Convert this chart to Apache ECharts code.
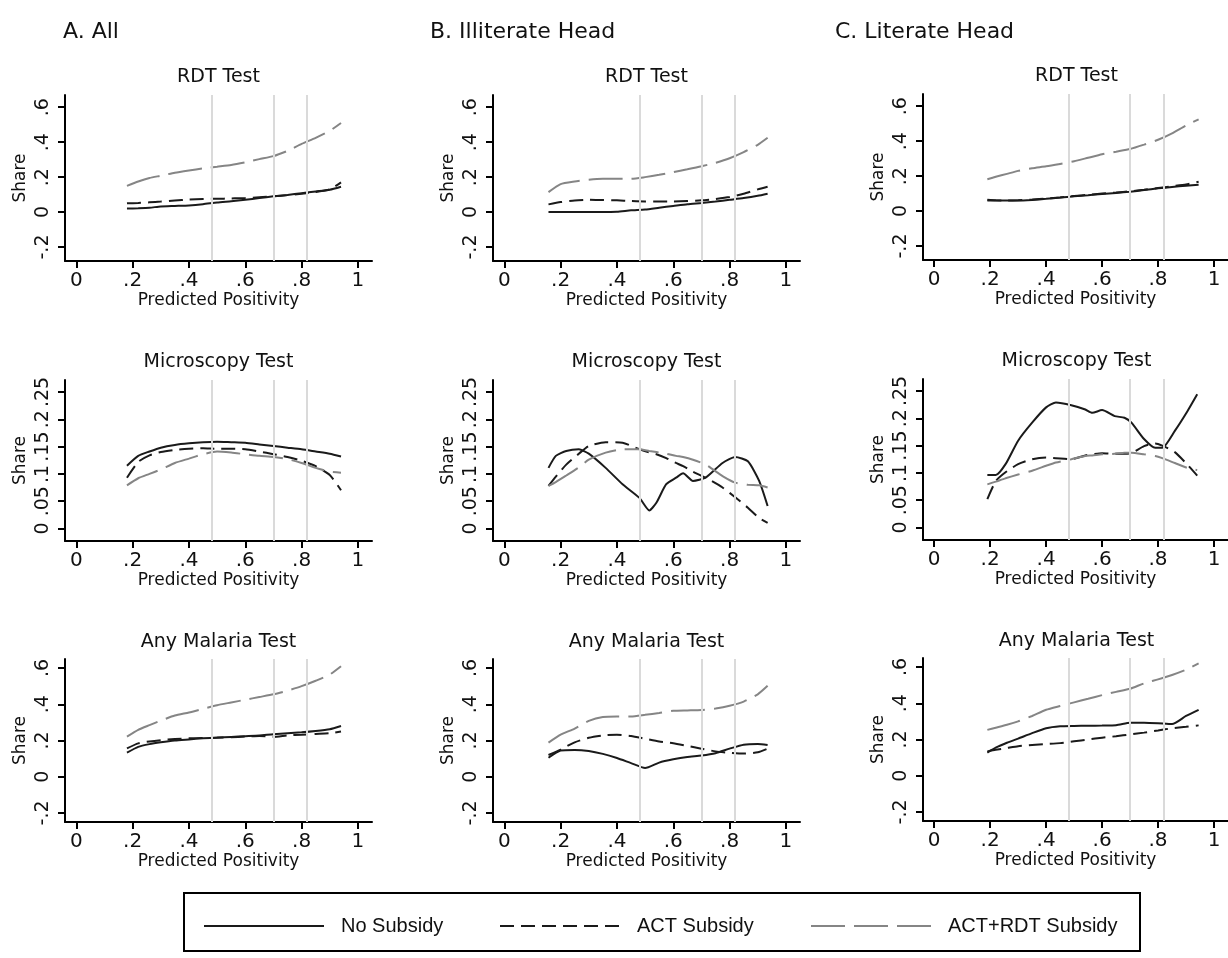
<!DOCTYPE html>
<html>
<head>
<meta charset="utf-8">
<script src="https://cdn.jsdelivr.net/npm/echarts@6/dist/echarts.min.js"></script>
<style>
  html, body { margin: 0; padding: 0; background: #fff; }
  #chart { width: 1228px; height: 958px; }
</style>
</head>
<body>
<div id="chart"></div>
<script>
// 刻度与参考线
const xTicks = [0, 0.2, 0.4, 0.6, 0.8, 1];
const shareTicks = [-0.2, 0, 0.2, 0.4, 0.6];
const microTicks = [0, 0.05, 0.1, 0.15, 0.2, 0.25];
const cutoffs = [0.48, 0.705, 0.82];

const columnTitles = ['A. All', 'B. Illiterate Head', 'C. Literate Head'];
const rowTitles = ['RDT Test', 'Microscopy Test', 'Any Malaria Test'];
const seriesNames = ['No Subsidy', 'ACT Subsidy', 'ACT+RDT Subsidy'];

// A. All
const xA = [0.18, 0.22, 0.26, 0.3, 0.35, 0.4, 0.45, 0.5, 0.55, 0.6, 0.65, 0.7, 0.75, 0.8, 0.85, 0.9, 0.94];
const noA1 = [0.02, 0.022, 0.025, 0.032, 0.035, 0.038, 0.045, 0.055, 0.062, 0.07, 0.08, 0.09, 0.098, 0.108, 0.118, 0.128, 0.145];
const actA1 = [0.05, 0.052, 0.056, 0.06, 0.066, 0.072, 0.075, 0.076, 0.078, 0.08, 0.085, 0.09, 0.097, 0.105, 0.115, 0.13, 0.17];
const rdtA1 = [0.15, 0.175, 0.195, 0.208, 0.225, 0.238, 0.25, 0.26, 0.27, 0.285, 0.303, 0.32, 0.35, 0.39, 0.425, 0.465, 0.51];
const noA2 = [0.115, 0.133, 0.141, 0.148, 0.153, 0.156, 0.158, 0.159, 0.158, 0.157, 0.154, 0.151, 0.148, 0.145, 0.141, 0.137, 0.132];
const actA2 = [0.093, 0.122, 0.134, 0.14, 0.144, 0.146, 0.147, 0.146, 0.146, 0.145, 0.141, 0.136, 0.131, 0.124, 0.114, 0.098, 0.07];
const rdtA2 = [0.079, 0.092, 0.1, 0.108, 0.12, 0.128, 0.136, 0.141, 0.139, 0.136, 0.133, 0.131, 0.127, 0.12, 0.111, 0.104, 0.102];
const noA3 = [0.133, 0.165, 0.18, 0.19, 0.2, 0.206, 0.212, 0.216, 0.22, 0.224, 0.228, 0.235, 0.24, 0.245, 0.252, 0.262, 0.28];
const actA3 = [0.156, 0.184, 0.195, 0.202, 0.208, 0.212, 0.214, 0.215, 0.218, 0.222, 0.225, 0.22, 0.228, 0.232, 0.236, 0.24, 0.25];
const rdtA3 = [0.221, 0.259, 0.285, 0.31, 0.338, 0.355, 0.375, 0.395, 0.41, 0.425, 0.44, 0.455, 0.475, 0.5, 0.53, 0.564, 0.61];

// B. Illiterate Head
const xB = [0.157, 0.2, 0.25, 0.3, 0.35, 0.4, 0.45, 0.5, 0.55, 0.6, 0.65, 0.7, 0.75, 0.8, 0.85, 0.9, 0.935];
const noB1 = [0, 0, 0, 0, 0, 0.002, 0.01, 0.015, 0.025, 0.035, 0.045, 0.052, 0.06, 0.07, 0.08, 0.093, 0.105];
const actB1 = [0.044, 0.057, 0.066, 0.07, 0.069, 0.067, 0.063, 0.061, 0.061, 0.061, 0.063, 0.067, 0.075, 0.086, 0.105, 0.13, 0.145];
const rdtB1 = [0.114, 0.16, 0.175, 0.185, 0.19, 0.19, 0.19, 0.2, 0.213, 0.229, 0.245, 0.262, 0.282, 0.308, 0.343, 0.385, 0.425];
const xB2 = [0.157, 0.183, 0.22, 0.265, 0.3, 0.36, 0.42, 0.48, 0.515, 0.54, 0.575, 0.61, 0.635, 0.67, 0.715, 0.775, 0.82, 0.865, 0.905, 0.935];
const noB2 = [0.111, 0.133, 0.142, 0.145, 0.137, 0.111, 0.081, 0.056, 0.033, 0.047, 0.081, 0.093, 0.101, 0.087, 0.093, 0.12, 0.131, 0.123, 0.087, 0.041];
const actB2 = [0.078, 0.095, 0.117, 0.137, 0.151, 0.158, 0.157, 0.145, 0.139, 0.136, 0.129, 0.12, 0.114, 0.104, 0.093, 0.075, 0.057, 0.038, 0.019, 0.01];
const rdtB2 = [0.078, 0.085, 0.097, 0.112, 0.126, 0.139, 0.145, 0.145, 0.142, 0.14, 0.137, 0.133, 0.131, 0.126, 0.117, 0.096, 0.084, 0.08, 0.079, 0.075];
const noB3 = [0.105, 0.145, 0.148, 0.142, 0.126, 0.103, 0.075, 0.048, 0.078, 0.096, 0.109, 0.117, 0.13, 0.155, 0.177, 0.181, 0.175];
const actB3 = [0.12, 0.15, 0.19, 0.215, 0.228, 0.232, 0.225, 0.21, 0.195, 0.185, 0.17, 0.155, 0.14, 0.132, 0.128, 0.135, 0.155];
const rdtB3 = [0.188, 0.232, 0.266, 0.308, 0.33, 0.333, 0.333, 0.342, 0.352, 0.364, 0.366, 0.368, 0.377, 0.392, 0.415, 0.455, 0.502];

// C. Literate Head
const xC = [0.19, 0.22, 0.26, 0.3, 0.35, 0.4, 0.45, 0.5, 0.55, 0.6, 0.65, 0.7, 0.75, 0.8, 0.85, 0.9, 0.945];
const noC1 = [0.06, 0.06, 0.06, 0.06, 0.064, 0.07, 0.077, 0.085, 0.091, 0.098, 0.104, 0.111, 0.12, 0.13, 0.138, 0.145, 0.15];
const actC1 = [0.065, 0.062, 0.06, 0.062, 0.066, 0.072, 0.078, 0.086, 0.093, 0.1, 0.106, 0.113, 0.122, 0.132, 0.142, 0.152, 0.168];
const rdtC1 = [0.182, 0.196, 0.213, 0.23, 0.245, 0.256, 0.27, 0.285, 0.305, 0.325, 0.34, 0.355, 0.38, 0.408, 0.445, 0.49, 0.525];
const xC2 = [0.19, 0.22, 0.255, 0.3, 0.35, 0.4, 0.435, 0.49, 0.54, 0.565, 0.6, 0.645, 0.68, 0.705, 0.75, 0.79, 0.815, 0.86, 0.905, 0.94];
const noC2 = [0.096, 0.096, 0.116, 0.159, 0.192, 0.22, 0.229, 0.224, 0.216, 0.21, 0.215, 0.204, 0.201, 0.192, 0.162, 0.146, 0.146, 0.177, 0.213, 0.244];
const actC2 = [0.052, 0.085, 0.101, 0.116, 0.125, 0.128, 0.127, 0.125, 0.132, 0.134, 0.136, 0.135, 0.135, 0.136, 0.149, 0.154, 0.15, 0.138, 0.115, 0.095];
const rdtC2 = [0.079, 0.084, 0.09, 0.097, 0.104, 0.113, 0.119, 0.125, 0.131, 0.132, 0.134, 0.135, 0.137, 0.137, 0.134, 0.131, 0.127, 0.118, 0.109, 0.105];
const noC3 = [0.128, 0.155, 0.182, 0.205, 0.235, 0.262, 0.273, 0.275, 0.276, 0.277, 0.279, 0.292, 0.293, 0.29, 0.285, 0.33, 0.364];
const actC3 = [0.134, 0.143, 0.153, 0.163, 0.17, 0.175, 0.18, 0.19, 0.2, 0.21, 0.218, 0.228, 0.238, 0.25, 0.262, 0.27, 0.278];
const rdtC3 = [0.253, 0.265, 0.281, 0.3, 0.33, 0.364, 0.385, 0.405, 0.425, 0.445, 0.463, 0.48, 0.51, 0.532, 0.556, 0.585, 0.62];

// 按 行 x 列 组织
const panels = [
  [[xA, noA1, actA1, rdtA1], [xB, noB1, actB1, rdtB1], [xC, noC1, actC1, rdtC1]],
  [[xA, noA2, actA2, rdtA2], [xB2, noB2, actB2, rdtB2], [xC2, noC2, actC2, rdtC2]],
  [[xA, noA3, actA3, rdtA3], [xB, noB3, actB3, rdtB3], [xC, noC3, actC3, rdtC3]]
];

const FONT = 'DejaVu Sans';
const colLeft = [65, 493, 923];
const colShift = [0, 0, -1];
const plotW = 307;
const rowTop = [95, 380, 659];
const rowH = [166, 161, 163];
const rowMin = [-0.28, -0.023, -0.25];
const rowMax = [0.67, 0.272, 0.65];
const rowTicks = [shareTicks, microTicks, shareTicks];
const subTitleY = [77, 362, 642];

const lineStyles = [
  { color: '#1a1a1a', width: 2, type: 'solid' },
  { color: '#1a1a1a', width: 2, type: [14, 7] },
  { color: '#858585', width: 2, type: [34, 9] }
];

function fmt(v) {
  if (Math.abs(v) < 1e-9) return '0';
  return String(Math.round(v * 100) / 100).replace('0.', '.');
}

const grid = [], xAxis = [], yAxis = [], series = [], graphic = [];

for (let r = 0; r < 3; r++) {
  for (let c = 0; c < 3; c++) {
    const gi = r * 3 + c;
    const top = rowTop[r] + colShift[c];
    grid.push({ left: colLeft[c], top: top, width: plotW, height: rowH[r] });
    xAxis.push({
      gridIndex: gi, type: 'value', min: -0.04, max: 1.05,
      name: 'Predicted Positivity', nameLocation: 'middle', nameGap: 26,
      nameTextStyle: { fontFamily: FONT, fontSize: 17, color: '#111' },
      axisLine: { onZero: false, lineStyle: { color: '#000', width: 2 } },
      axisTick: { customValues: xTicks, length: 7, lineStyle: { color: '#000', width: 2 } },
      axisLabel: { customValues: xTicks, formatter: fmt, fontFamily: FONT, fontSize: 20, color: '#111', margin: 10 },
      splitLine: { show: false }
    });
    yAxis.push({
      gridIndex: gi, type: 'value', min: rowMin[r], max: rowMax[r],
      name: 'Share', nameLocation: 'middle', nameGap: 36,
      nameTextStyle: { fontFamily: FONT, fontSize: 17, color: '#111' },
      axisLine: { onZero: false, lineStyle: { color: '#000', width: 2 } },
      axisTick: { customValues: rowTicks[r], length: 7, lineStyle: { color: '#000', width: 2 } },
      axisLabel: { customValues: rowTicks[r], formatter: fmt, rotate: 90, fontFamily: FONT, fontSize: 19, color: '#111', margin: 12 },
      splitLine: { show: false }
    });
    // 参考竖线
    series.push({
      type: 'line', xAxisIndex: gi, yAxisIndex: gi, data: [], silent: true, z: 1,
      markLine: {
        silent: true, symbol: 'none', label: { show: false }, animation: false,
        lineStyle: { color: '#dadada', width: 2, type: 'solid' },
        data: cutoffs.map(v => ({ xAxis: v }))
      }
    });
    const [xs, ...ys] = panels[r][c];
    ys.forEach((vals, k) => {
      series.push({
        name: seriesNames[k], type: 'line', xAxisIndex: gi, yAxisIndex: gi,
        data: xs.map((x, i) => [x, vals[i]]),
        showSymbol: false, symbol: 'none', smooth: 0.2, z: 3,
        lineStyle: lineStyles[k], itemStyle: { color: lineStyles[k].color },
        animation: false
      });
    });
    graphic.push({
      type: 'text', x: colLeft[c] + plotW / 2, y: subTitleY[r] + colShift[c],
      style: { text: rowTitles[r], font: '19px "DejaVu Sans"', fill: '#111', align: 'center', verticalAlign: 'middle', textAlign: 'center', textVerticalAlign: 'middle' }
    });
  }
}

const headerX = [63, 430, 835];
columnTitles.forEach((t, c) => {
  graphic.push({
    type: 'text', x: headerX[c], y: 32,
    style: { text: t, font: '22px "DejaVu Sans"', fill: '#111', align: 'left', verticalAlign: 'middle', textVerticalAlign: 'middle' }
  });
});

// 图例外框
graphic.push({
  type: 'rect', shape: { x: 184, y: 893, width: 956, height: 58 },
  style: { fill: 'none', stroke: '#000', lineWidth: 2 }
});

const legendLeft = [198, 494, 805];
const legend = seriesNames.map((n, k) => ({
  left: legendLeft[k], top: 911, data: [n], selectedMode: false,
  itemWidth: 120, itemHeight: 20,
  itemStyle: { opacity: 0 },
  textStyle: { fontFamily: 'Liberation Sans', fontSize: 20, color: '#111', padding: [0, 0, 0, 12] }
}));

const chart = echarts.init(document.getElementById('chart'));
chart.setOption({
  animation: false,
  backgroundColor: '#fff',
  grid, xAxis, yAxis, series, legend, graphic
});
</script>
</body>
</html>
